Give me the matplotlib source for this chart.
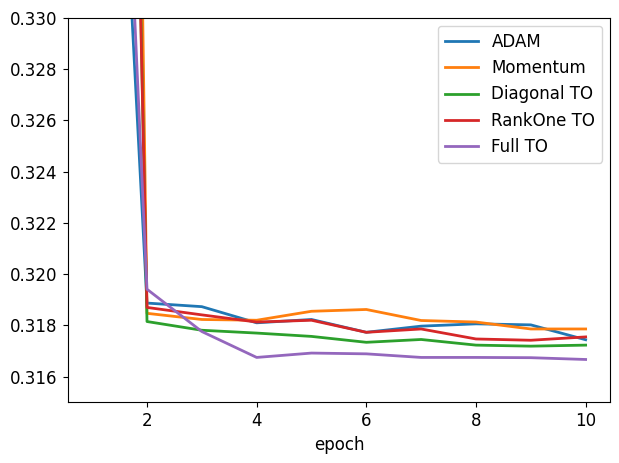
import matplotlib
matplotlib.use("Agg")
import matplotlib.pyplot as plt

epochs = [1, 2, 3, 4, 5, 6, 7, 8, 9, 10]
adam = [0.3596, 0.31887, 0.31873, 0.31810, 0.31823, 0.31773, 0.31797, 0.31806, 0.31802, 0.31744]
momentum = [0.4663, 0.31847, 0.31823, 0.31820, 0.31855, 0.31862, 0.31819, 0.31813, 0.31786, 0.31786]
diagonal = [0.425, 0.31815, 0.31781, 0.31770, 0.31757, 0.31734, 0.31745, 0.31723, 0.31719, 0.31723]
rankone = [0.417, 0.31870, 0.31841, 0.31813, 0.31820, 0.31773, 0.31786, 0.31747, 0.31742, 0.31755]
full = [0.3667, 0.31941, 0.31776, 0.31675, 0.31692, 0.31689, 0.31675, 0.31675, 0.31674, 0.31667]
labels = ["ADAM", "Momentum", "Diagonal TO", "RankOne TO", "Full TO"]

plt.rcParams['font.size'] = 12
fig = plt.figure(figsize=(6.19, 4.63), dpi=100)
ax = fig.add_axes([67.5/619, 1 - 402.3/463, (610.3 - 67.5)/619, (402.3 - 17.7)/463])
for series, lab in zip([adam, momentum, diagonal, rankone, full], labels):
    ax.plot(epochs, series, label=lab, linewidth=2)
ax.set_ylim(0.315, 0.330)
ax.set_xlabel("epoch")
ax.legend(loc="upper right")
fig.savefig("out.png", dpi=100)
